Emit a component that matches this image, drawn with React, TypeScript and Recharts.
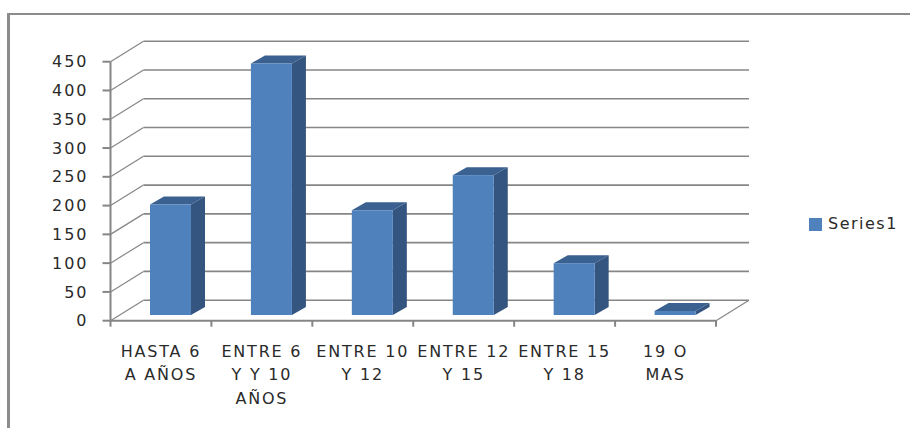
import React from "react"
import { Bar, BarChart, CartesianGrid, Legend, XAxis, YAxis } from "recharts"

const categories = ["HASTA 6 A AÑOS", "ENTRE 6 Y Y 10 AÑOS", "ENTRE 10 Y 12", "ENTRE 12 Y 15", "ENTRE 15 Y 18", "19 O MAS"]
const categoryLines = [
  ["HASTA 6", "A AÑOS"],
  ["ENTRE 6", "Y Y 10", "AÑOS"],
  ["ENTRE 10", "Y 12"],
  ["ENTRE 12", "Y 15"],
  ["ENTRE 15", "Y 18"],
  ["19 O", "MAS"],
]
const values = [192, 437, 182, 243, 90, 7]
const yTicks = [0, 50, 100, 150, 200, 250, 300, 350, 400, 450]

const data = categories.map((name, i) => ({ name, value: values[i] }))

const GRID = "#868686"
const FRONT = "#4F81BD"
const SIDE = "#34557F"
const TOP = "#3A618F"
const FONT = "'DejaVu Sans', sans-serif"
const TEXT = "#2a2a2a"

// plot size and the fake 3D offsets
const WIDTH = 910
const HEIGHT = 428
const LEFT = 110.5
const RIGHT = 194
const TOP_MARGIN = 61.7
const BOTTOM = 107.3
const WALL_X = 33
const WALL_Y = 20.5
const BAR_SHIFT_X = 9.5
const BAR_SHIFT_Y = 5.7
const DEPTH_X = 14
const DEPTH_Y = 8
const BAND = (WIDTH - LEFT - RIGHT) / categories.length

function GridLine(props: any) {
  const { x1, x2, y1 } = props
  const isFloor = y1 > HEIGHT - BOTTOM - 1
  return (
    <g stroke={GRID} fill="none">
      <line x1={x1} y1={y1} x2={x1 + WALL_X} y2={y1 - WALL_Y} strokeWidth={1.2} />
      <line x1={x1 + WALL_X} y1={y1 - WALL_Y} x2={x2 + WALL_X} y2={y1 - WALL_Y} strokeWidth={1.6} />
      {isFloor && <line x1={x2} y1={y1} x2={x2 + WALL_X} y2={y1 - WALL_Y} strokeWidth={1.2} />}
    </g>
  )
}

function Bar3D(props: any) {
  const { width, height } = props
  const x = props.x + BAR_SHIFT_X
  const y = props.y - BAR_SHIFT_Y
  return (
    <g>
      <polygon
        points={`${x},${y} ${x + width},${y} ${x + width + DEPTH_X},${y - DEPTH_Y} ${x + DEPTH_X},${y - DEPTH_Y}`}
        fill={TOP}
      />
      <polygon
        points={`${x + width},${y} ${x + width + DEPTH_X},${y - DEPTH_Y} ${x + width + DEPTH_X},${y + height - DEPTH_Y} ${x + width},${y + height}`}
        fill={SIDE}
      />
      <rect x={x} y={y} width={width} height={height} fill={FRONT} />
    </g>
  )
}

function CategoryTick(props: any) {
  const { x, y, index } = props
  const lines = categoryLines[index]
  const axisY = HEIGHT - BOTTOM
  return (
    <g>
      <line x1={x - BAND / 2} y1={axisY} x2={x - BAND / 2} y2={axisY + 6} stroke={GRID} strokeWidth={2} />
      {index === categories.length - 1 && (
        <line x1={x + BAND / 2} y1={axisY} x2={x + BAND / 2} y2={axisY + 6} stroke={GRID} strokeWidth={2} />
      )}
      <text x={x} textAnchor="middle" fontFamily={FONT} fontSize={16} letterSpacing={1.8} fill={TEXT}>
        {lines.map((line, i) => (
          <tspan key={line} x={x} y={y + 28 + i * 23.7}>
            {line}
          </tspan>
        ))}
      </text>
    </g>
  )
}

export default function App() {
  return (
    <div style={{ position: "absolute", left: 0, top: 0, width: WIDTH, height: HEIGHT, background: "#fff", overflow: "hidden" }}>
      <div
        style={{
          position: "absolute",
          left: 7,
          top: 13,
          width: 910,
          height: 420,
          borderLeft: "3px solid #8c8c8c",
          borderTop: "2px solid #8c8c8c",
        }}
      />
      <BarChart
        width={WIDTH}
        height={HEIGHT}
        data={data}
        margin={{ top: TOP_MARGIN, right: RIGHT, bottom: 0, left: 0 }}
        barSize={41}
      >
        <CartesianGrid vertical={false} horizontal={GridLine as any} />
        <XAxis
          dataKey="name"
          interval={0}
          height={BOTTOM}
          axisLine={{ stroke: GRID, strokeWidth: 2 }}
          tickLine={false}
          tick={CategoryTick as any}
        />
        <YAxis
          width={LEFT}
          domain={[0, 450]}
          ticks={yTicks}
          interval={0}
          axisLine={{ stroke: GRID, strokeWidth: 2 }}
          tickLine={{ stroke: GRID, strokeWidth: 2 }}
          tickSize={8}
          tickMargin={14}
          tick={{ fontFamily: FONT, fontSize: 16, fill: TEXT, letterSpacing: 2 }}
        />
        <Legend
          layout="vertical"
          align="center"
          verticalAlign="middle"
          iconType="square"
          iconSize={13}
          wrapperStyle={{ position: "absolute", left: 809, top: 214, width: 101, fontFamily: FONT, fontSize: 16, letterSpacing: 1.5 }}
          formatter={(value: string) => <span style={{ color: TEXT, marginLeft: 2 }}>{value}</span>}
        />
        <Bar dataKey="value" name="Series1" fill={FRONT} shape={Bar3D as any} isAnimationActive={false} />
      </BarChart>
    </div>
  )
}
